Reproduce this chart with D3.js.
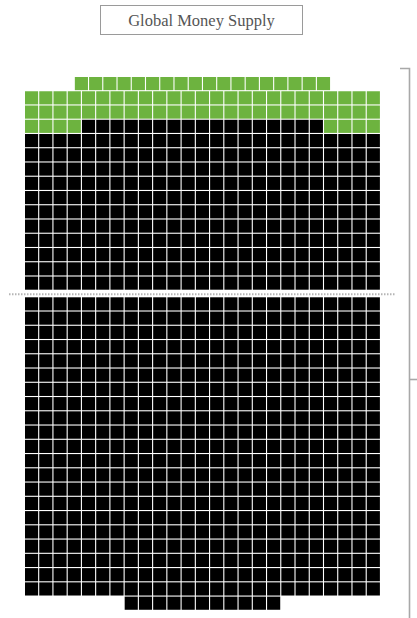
<!DOCTYPE html>
<html>
<head>
<meta charset="utf-8">
<script src="https://cdn.jsdelivr.net/npm/d3@7"></script>
<style>
  html, body { margin: 0; padding: 0; background: #fff; }
  svg { display: block; }
</style>
</head>
<body>
<svg id="chart" width="417" height="618"></svg>
<script>
// ---- data ----
const title = "Global Money Supply";
const columnsPerRow = 25;
// upper section (above the dashed line), stacked from the bottom up
const upperCategories = ["black", "green"];
const upperCounts = [292, 76];
// lower section (below the dashed line), stacked from the top down
const lowerCategories = ["black"];
const lowerCounts = [536];
const colors = { black: "#000000", green: "#6db33f" };

// ---- layout helper ----
// returns cells {row, col, cat}; row 0 = first row filled; partial rows centred
function layoutCells(categories, counts, ncol) {
  const cells = [];
  let row = 0;
  let occupied = [];
  categories.forEach((cat, i) => {
    let n = counts[i];
    if (occupied.length > 0 && occupied.length < ncol) {
      const free = d3.range(ncol).filter(c => !occupied.includes(c));
      const take = Math.min(n, free.length);
      free.slice(0, take).forEach(c => cells.push({ row, col: c, cat }));
      n -= take;
      row += 1;
      occupied = [];
    }
    while (n >= ncol) {
      d3.range(ncol).forEach(c => cells.push({ row, col: c, cat }));
      n -= ncol;
      row += 1;
    }
    if (n > 0) {
      const start = (ncol - n) / 2;
      occupied = d3.range(n).map(k => start + k);
      occupied.forEach(c => cells.push({ row, col: c, cat }));
    }
  });
  const rows = row + (occupied.length ? 1 : 0);
  return { cells, rows };
}

const svg = d3.select("#chart");

// ---- title ----
const tg = svg.append("g");
tg.append("rect")
  .attr("x", 100.5).attr("y", 5.5).attr("width", 202).attr("height", 29)
  .attr("fill", "#fff").attr("stroke", "#9a9a9a").attr("stroke-width", 1);
tg.append("text")
  .attr("x", 201.5).attr("y", 25.5)
  .attr("text-anchor", "middle")
  .attr("font-family", "'Liberation Serif', 'DejaVu Serif', serif")
  .attr("font-size", 16.5)
  .attr("fill", "#555")
  .text(title);

// ---- scales ----
const gap = 1.1;
const x = d3.scaleLinear().domain([0, columnsPerRow]).range([25, 381]);
const cellW = x(1) - x(0) - gap;

const upper = layoutCells(upperCategories, upperCounts, columnsPerRow);
const lower = layoutCells(lowerCategories, lowerCounts, columnsPerRow);

const upperTop = 77, upperBottom = 290.8;
const yUpper = d3.scaleLinear()
  .domain([0, upper.rows])
  .range([upperBottom, upperTop]); // row 0 at the bottom
const step = (upperBottom - upperTop) / upper.rows;
const lowerTop = 297.3;
const yLower = d3.scaleLinear()
  .domain([0, lower.rows])
  .range([lowerTop, lowerTop + step * lower.rows]);
const cellH = step - gap;

// ---- cells ----
svg.append("g").selectAll("rect")
  .data(upper.cells)
  .join("rect")
  .attr("x", d => x(d.col))
  .attr("y", d => yUpper(d.row + 1))
  .attr("width", cellW)
  .attr("height", cellH)
  .attr("fill", d => colors[d.cat]);

svg.append("g").selectAll("rect")
  .data(lower.cells)
  .join("rect")
  .attr("x", d => x(d.col))
  .attr("y", d => yLower(d.row))
  .attr("width", cellW)
  .attr("height", cellH)
  .attr("fill", d => colors[d.cat]);

// ---- dashed divider ----
svg.append("line")
  .attr("x1", 9).attr("x2", 396)
  .attr("y1", 294.2).attr("y2", 294.2)
  .attr("stroke", "#b5b5b5").attr("stroke-width", 2)
  .attr("stroke-dasharray", "1.5,1.5");

// ---- bracket on the right ----
const bx = 409.5;
svg.append("path")
  .attr("d", `M400,68.5 H${bx} V618`)
  .attr("fill", "none").attr("stroke", "#a8a8a8").attr("stroke-width", 1.6);
svg.append("line")
  .attr("x1", bx).attr("x2", 417).attr("y1", 379.5).attr("y2", 379.5)
  .attr("stroke", "#a8a8a8").attr("stroke-width", 1.6);
</script>
</body>
</html>
